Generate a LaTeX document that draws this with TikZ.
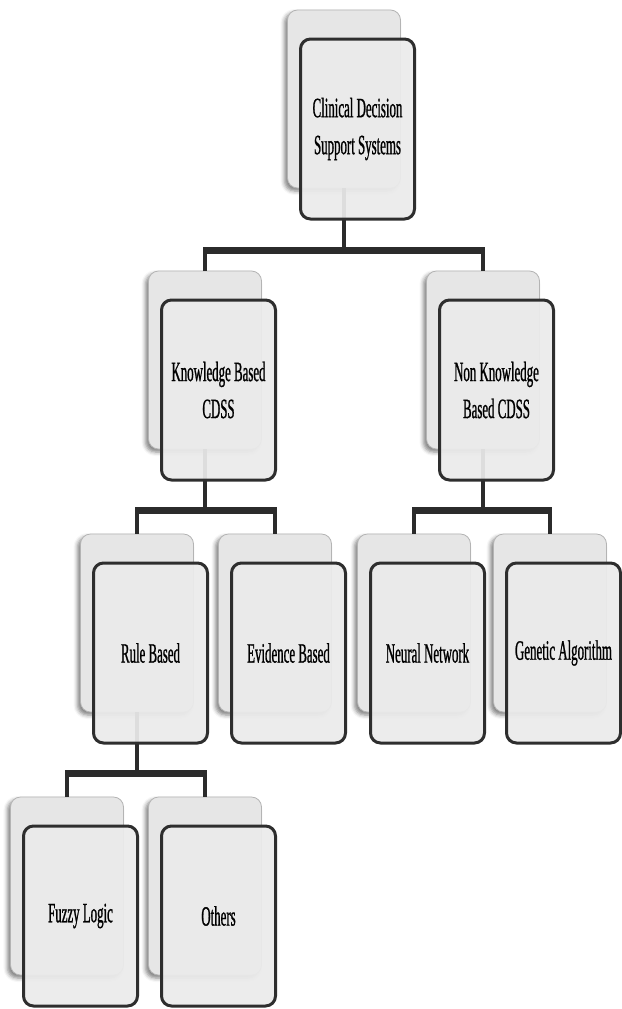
\documentclass[tikz,border=0pt]{standalone}
\usepackage{fontspec}
\newfontfamily\cdssfont[FakeStretch=0.46, FakeBold=0.8]{Liberation Serif}
\usetikzlibrary{calc, positioning, shadows.blur}
\definecolor{backfill}{HTML}{E6E6E6}
\definecolor{backline}{HTML}{B4B4B4}
\definecolor{frontfill}{HTML}{EBEBEB}
\definecolor{frontline}{HTML}{2E2E2E}
\definecolor{linkcol}{HTML}{2B2B2B}

\begin{document}
\begin{tikzpicture}[x=1pt, y=-1pt, every node/.style={font=\cdssfont\fontsize{28}{37}\selectfont}]
  \tikzset{backbox/.style={draw=backline, line width=0.8pt, fill=backfill, rounded corners=10pt, minimum width=113pt, minimum height=178pt, inner sep=0pt,
      blur shadow={shadow xshift=-3pt, shadow yshift=-3pt, shadow blur radius=4pt, shadow opacity=50}},
    frontbox/.style={draw=frontline, line width=3pt, fill=frontfill, fill opacity=0.93, draw opacity=1, text opacity=1, rounded corners=10pt,
      minimum width=114pt, minimum height=180pt, inner sep=0pt, align=center, text=black},
    stem/.style={draw=linkcol, line width=4pt},
    bar/.style={draw=linkcol, line width=7pt, shorten <=-2pt, shorten >=-2pt}}
  \useasboundingbox (0,0) rectangle (621,1009);

  % back sheets
  \node[backbox] (cdss-b) at (344,99) {};
  \node[backbox] (kb-b) at (205,360) {};
  \node[backbox] (nkb-b) at (483,360) {};
  \node[backbox] (rule-b) at (137,623) {};
  \node[backbox] (evid-b) at (275,623) {};
  \node[backbox] (nn-b) at (414,623) {};
  \node[backbox] (ga-b) at (550,623) {};
  \node[backbox] (fuzzy-b) at (67,886) {};
  \node[backbox] (others-b) at (205,886) {};

  % bar levels
  \coordinate (j1) at (0,250);
  \coordinate (j2) at (0,510);
  \coordinate (j3) at (0,773);

  \draw[stem] (cdss-b.south) -- (cdss-b.south |- j1);
  \draw[bar] (kb-b.north |- j1) -- (nkb-b.north |- j1);
  \draw[stem] (kb-b.north |- j1) -- (kb-b.north);
  \draw[stem] (nkb-b.north |- j1) -- (nkb-b.north);

  \draw[stem] (kb-b.south) -- (kb-b.south |- j2);
  \draw[bar] (rule-b.north |- j2) -- (evid-b.north |- j2);
  \draw[stem] (rule-b.north |- j2) -- (rule-b.north);
  \draw[stem] (evid-b.north |- j2) -- (evid-b.north);

  \draw[stem] (nkb-b.south) -- (nkb-b.south |- j2);
  \draw[bar] (nn-b.north |- j2) -- (ga-b.north |- j2);
  \draw[stem] (nn-b.north |- j2) -- (nn-b.north);
  \draw[stem] (ga-b.north |- j2) -- (ga-b.north);

  \draw[stem] (rule-b.south) -- (rule-b.south |- j3);
  \draw[bar] (fuzzy-b.north |- j3) -- (others-b.north |- j3);
  \draw[stem] (fuzzy-b.north |- j3) -- (fuzzy-b.north);
  \draw[stem] (others-b.north |- j3) -- (others-b.north);

  % front sheets, shifted down and right
  \node[frontbox] (cdss) at ($(cdss-b)+(13.5,30)$) {Clinical Decision\\Support Systems};
  \node[frontbox] (kb) at ($(kb-b)+(13.5,30)$) {Knowledge Based\\CDSS};
  \node[frontbox] (nkb) at ($(nkb-b)+(13.5,30)$) {Non Knowledge\\Based CDSS};
  \node[frontbox] (rule) at ($(rule-b)+(13.5,30)$) {Rule Based};
  \node[frontbox] (evid) at ($(evid-b)+(13.5,30)$) {Evidence Based};
  \node[frontbox] (nn) at ($(nn-b)+(13.5,30)$) {Neural Network};
  \node[frontbox] (ga) at ($(ga-b)+(13.5,30)$) {Genetic Algorithm};
  \node[frontbox] (fuzzy) at ($(fuzzy-b)+(13.5,30)$) {Fuzzy Logic};
  \node[frontbox] (others) at ($(others-b)+(13.5,30)$) {Others};
\end{tikzpicture}
\end{document}
